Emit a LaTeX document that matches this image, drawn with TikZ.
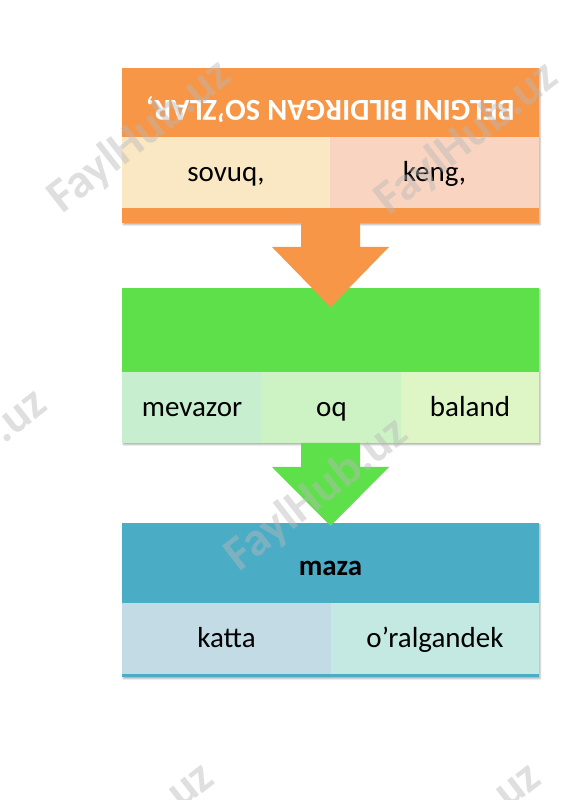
\documentclass[tikz,border=0pt]{standalone}
\usepackage{fontspec}
\setmainfont{Carlito}
\usetikzlibrary{positioning,calc,backgrounds,shadows.blur}
\definecolor{hdrorange}{RGB}{247,150,70}
\definecolor{hdrgreen}{RGB}{94,224,74}
\definecolor{hdrblue}{RGB}{75,172,198}
\definecolor{sovuqfill}{RGB}{250,232,196}
\definecolor{kengfill}{RGB}{249,212,193}
\definecolor{mevfill}{RGB}{200,238,208}
\definecolor{oqfill}{RGB}{205,242,196}
\definecolor{balfill}{RGB}{222,246,198}
\definecolor{kattafill}{RGB}{195,219,229}
\definecolor{oralfill}{RGB}{196,233,227}
\definecolor{wmgray}{RGB}{185,185,185}
\begin{document}
\begin{tikzpicture}[x=1bp, y=1bp, node distance=0bp,
		hdrbox/.style={draw=none, minimum width=417bp, inner sep=0pt, outer sep=0pt},
		cellbox/.style={draw=none, minimum height=71bp, inner sep=0pt, outer sep=0pt, text height=24bp, text depth=6bp, font=\fontsize{29bp}{34bp}\selectfont},
		stripbox/.style={draw=none, minimum width=417bp, inner sep=0pt, outer sep=0pt},
		blockshadow/.style={fill=white, blur shadow={shadow xshift=1.2bp, shadow yshift=-1.8bp, shadow blur radius=1.5bp, shadow opacity=30}},
		wmark/.style={text=wmgray, opacity=0.45, rotate=38, font=\fontsize{48bp}{50bp}\selectfont\bfseries}
		]
	\useasboundingbox (0,0) rectangle (565,800);
	
	% top block
	\node[hdrbox, fill=hdrorange, minimum height=69bp] (top) at (330.5,697.5) {};
	\node[rotate=180, text=white, font=\fontsize{30.5bp}{34bp}\selectfont\bfseries] (topText) at ([yshift=-7bp]top.center) {BELGINI BILDIRGAN SO’ZLAR,};
	\node[cellbox, fill=sovuqfill, minimum width=208bp, anchor=north west] (sovuq) at (top.south west) {sovuq,};
	\node[cellbox, fill=kengfill, minimum width=209bp, right=of sovuq] (keng) {keng,};
	\node[stripbox, fill=hdrorange, minimum height=15bp, anchor=north west] (topStrip) at (sovuq.south west) {};
	
	% middle block
	\node[hdrbox, fill=hdrgreen, minimum height=84bp, below=65bp of topStrip] (mid) {};
	\node[cellbox, fill=mevfill, minimum width=140bp, anchor=north west] (mevazor) at (mid.south west) {mevazor};
	\node[cellbox, fill=oqfill, minimum width=139bp, right=of mevazor] (oq) {oq};
	\node[cellbox, fill=balfill, minimum width=138bp, right=of oq] (baland) {baland};
	\coordinate (midBottom) at (mevazor.south -| mid.south);
	
	% bottom block
	\node[hdrbox, fill=hdrblue, minimum height=80bp, below=80bp of midBottom, text height=26bp, text depth=2bp, font=\fontsize{29bp}{34bp}\selectfont\bfseries] (bot) {maza};
	\node[cellbox, fill=kattafill, minimum width=209bp, anchor=north west] (katta) at (bot.south west) {katta};
	\node[cellbox, fill=oralfill, minimum width=208bp, right=of katta] (oral) {o’ralgandek};
	\node[stripbox, fill=hdrblue, minimum height=3bp, anchor=north west] (botStrip) at (katta.south west) {};
	
	\begin{pgfonlayer}{background}
		\fill[blockshadow] (top.north west) rectangle (topStrip.south east);
		\fill[blockshadow] (mid.north west) rectangle (baland.south east);
		\fill[blockshadow] (bot.north west) rectangle (botStrip.south east);
	\end{pgfonlayer}
	
	% arrows
	\fill[hdrorange] ($(topStrip.south)+(-29.5,0)$) -- ++(0,-24) -- ++(-29,0) -- ($(mid.north)+(0,-19)$) -- ($(topStrip.south)+(58.5,-24)$) -- ++(-29,0) -- ($(topStrip.south)+(29.5,0)$) -- cycle;
	\fill[hdrgreen] ($(midBottom)+(-29.5,0)$) -- ++(0,-24) -- ++(-29,0) -- ($(bot.north)+(0,-3)$) -- ($(midBottom)+(58.5,-24)$) -- ++(-29,0) -- ($(midBottom)+(29.5,0)$) -- cycle;
	
	% watermarks
	\foreach \wx/\wy [count=\i] in {140/663, 467/661, -44/334, 317/305, 123/-39, 450/-39}
		\node[wmark] (wm\i) at (\wx,\wy) {FaylHub.uz};
\end{tikzpicture}
\end{document}
